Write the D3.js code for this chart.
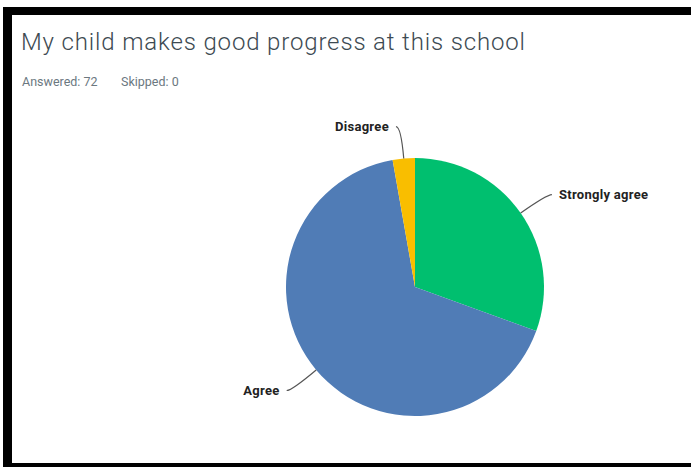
<!DOCTYPE html>
<html>
<head>
<meta charset="utf-8">
<script src="https://cdn.jsdelivr.net/npm/d3@7"></script>
<style>
  body { margin: 0; background: #fff; }
  text { font-family: Roboto, "Open Sans", sans-serif; }
</style>
</head>
<body>
<div id="GraphHolder"></div>
<script>
// chart data
var categories = ["Strongly agree", "Agree", "Disagree"];
var counts = [22, 48, 2];
var colors = ["#00bf6f", "#507cb6", "#f9be00"];
var title = "My child makes good progress at this school";
var answered = 72, skipped = 0;

var W = 691, H = 467;

var svg = d3.select("#GraphHolder").append("svg")
    .attr("width", W)
    .attr("height", H);

// black frame (cropped screenshot look)
svg.append("rect").attr("x", 3).attr("y", 7).attr("width", 720).attr("height", 470).attr("fill", "#000");
svg.append("rect").attr("x", 12).attr("y", 15).attr("width", 720).attr("height", 448).attr("fill", "#fff");

// title + response counts
svg.append("text")
    .attr("x", 21).attr("y", 50)
    .attr("font-size", 24)
    .attr("font-weight", 300)
    .attr("letter-spacing", 0.85)
    .attr("fill", "#3d4a52")
    .text(title);

svg.append("text")
    .attr("x", 22).attr("y", 86)
    .attr("font-size", 12.5)
    .attr("fill", "#6b787f")
    .text("Answered: " + answered);
svg.append("text")
    .attr("x", 121).attr("y", 86)
    .attr("font-size", 12.5)
    .attr("fill", "#6b787f")
    .text("Skipped: " + skipped);

// pie
var cx = 415, cy = 287, r = 129;
var data = categories.map(function(c, i) { return {name: c, value: counts[i], color: colors[i]}; });

var pie = d3.pie().sort(null).value(function(d) { return d.value; });
var arc = d3.arc().innerRadius(0).outerRadius(r);
var g = svg.append("g").attr("transform", "translate(" + cx + "," + cy + ")");

var slices = pie(data);
g.selectAll(".slice")
    .data(slices)
    .enter().append("path")
    .attr("class", "slice")
    .attr("d", arc)
    .attr("fill", function(d) { return d.data.color; });

// leader lines + labels
function pt(a, rad) { return [Math.sin(a) * rad, -Math.cos(a) * rad]; }

slices.forEach(function(d) {
    var mid = (d.startAngle + d.endAngle) / 2;
    var right = Math.sin(mid) > 0;
    var s = pt(mid, r);
    var e = pt(mid, r + 32);
    var end = [e[0] + (right ? 5 : -5), e[1]];
    g.append("path")
        .attr("d", "M" + s + "Q" + e + " " + end)
        .attr("fill", "none")
        .attr("stroke", "#555")
        .attr("stroke-width", 1.2);
    g.append("text")
        .attr("x", end[0] + (right ? 7 : -7))
        .attr("y", end[1])
        .attr("dy", "0.35em")
        .attr("text-anchor", right ? "start" : "end")
        .attr("font-size", 13)
        .attr("font-weight", 700)
        .attr("letter-spacing", 0.3)
        .attr("fill", "#222")
        .text(d.data.name);
});
</script>
</body>
</html>
